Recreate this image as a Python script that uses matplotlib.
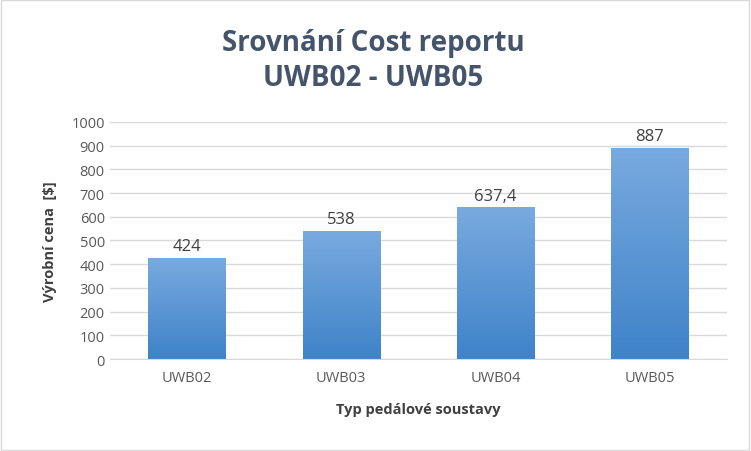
import matplotlib
matplotlib.use("Agg")
import matplotlib.pyplot as plt
import numpy as np
from matplotlib.colors import LinearSegmentedColormap
from matplotlib.patches import Rectangle

categories = ["UWB02", "UWB03", "UWB04", "UWB05"]
values = [424, 538, 637.4, 887]
labels = ["424", "538", "637,4", "887"]
yticks = list(range(0, 1001, 100))

plt.rcParams['font.family'] = ['Open Sans', 'DejaVu Sans']
fig = plt.figure(figsize=(7.51, 4.52), dpi=100)
fig.patches.append(Rectangle((0.001, 0.002), 0.997, 0.995, transform=fig.transFigure,
                             fill=False, edgecolor="#d9d9d9", linewidth=1))
ax = fig.add_axes([0.146, 0.2035, 0.822, 0.5245])
x = np.arange(len(categories))
w = 0.5
bars = ax.bar(x, values, width=w, color="none", zorder=2)
cmap = LinearSegmentedColormap.from_list("g", ["#3f83c9", "#78aadf"])
grad = np.linspace(0, 1, 256).reshape(-1, 1)
for b in bars:
    x0, y0, bw, bh = b.get_x(), b.get_y(), b.get_width(), b.get_height()
    ax.imshow(grad, cmap=cmap, origin="lower", aspect="auto",
              extent=[x0, x0 + bw, y0, y0 + bh], zorder=2)
ax.set_xlim(-0.5, 3.5)
ax.set_ylim(0, 1000)
ax.set_yticks(yticks)
ax.set_xticks(x)
ax.set_xticklabels(categories)
for xi, v, l in zip(x, values, labels):
    ax.text(xi, v + 18, l, ha="center", va="bottom", fontsize=12, color="#404040")
ax.grid(axis="y", color="#d9d9d9", linewidth=1, zorder=0)
for s in ["top", "right", "left"]:
    ax.spines[s].set_visible(False)
ax.spines["bottom"].set_color("#d9d9d9")
ax.tick_params(length=0, labelsize=10.5, colors="#595959")
ax.tick_params(axis="x", pad=8)
ax.set_xlabel("Typ pedálové soustavy", fontsize=10.5, fontweight="bold", color="#404040", labelpad=12)
ax.set_ylabel("Výrobní cena  [$]", fontsize=10.5, fontweight="bold", color="#404040", labelpad=10)
fig.text(0.497, 0.865, "Srovnání Cost reportu\nUWB02 - UWB05", ha="center", va="center",
         fontsize=20, fontweight="bold", color="#44546a", linespacing=1.25)
fig.savefig("out.png", dpi=100)
